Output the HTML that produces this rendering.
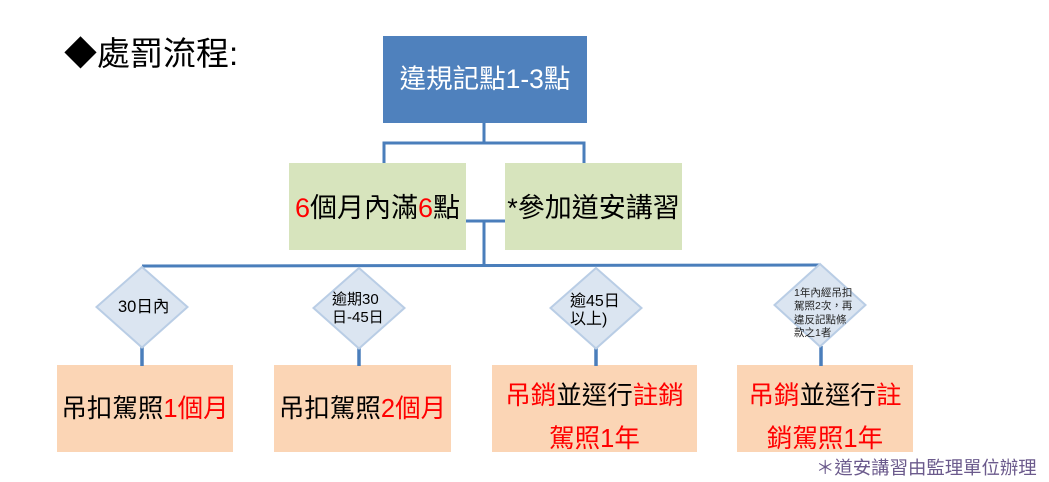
<!DOCTYPE html>
<html>
<head>
<meta charset="utf-8">
<style>
  html,body{margin:0;padding:0;background:#fff;}
  body{width:1049px;height:482px;position:relative;overflow:hidden;
       font-family:"Liberation Sans","Noto Sans CJK TC","Noto Sans CJK SC",sans-serif;}
  .abs{position:absolute;}
  .box{position:absolute;display:flex;align-items:center;justify-content:center;text-align:center;white-space:nowrap;}
  .r{color:#ff0000;}
  .t{position:absolute;white-space:nowrap;line-height:1;}
</style>
</head>
<body>
<svg class="abs" style="left:0;top:0" width="1049" height="482" viewBox="0 0 1049 482">
  <!-- boxes -->
  <rect x="383" y="36" width="204" height="87" fill="#4f81bd"/>
  <rect x="289" y="163" width="177" height="87" fill="#d7e4bd"/>
  <rect x="505" y="163" width="177" height="87" fill="#d7e4bd"/>
  <rect x="57" y="365" width="176" height="87" fill="#fbd5b5"/>
  <rect x="274" y="365" width="177" height="87" fill="#fbd5b5"/>
  <rect x="492" y="365" width="205" height="87" fill="#fbd5b5"/>
  <rect x="737" y="365" width="176" height="87" fill="#fbd5b5"/>
  <!-- connectors -->
  <g stroke="#4a7ebb" stroke-width="3" fill="none">
    <line x1="484" y1="123" x2="484" y2="143"/>
    <polyline points="384,163 384,143 584,143 584,163"/>
    <line x1="466" y1="221" x2="505" y2="221"/>
    <line x1="484" y1="221" x2="484" y2="266"/>
    <line x1="142" y1="266" x2="820" y2="265"/>
  </g>
  <g stroke="#4a7ebb" stroke-width="3.5" fill="none">
    <line x1="142" y1="347" x2="142" y2="366"/>
    <line x1="359" y1="348" x2="359" y2="366"/>
    <line x1="596" y1="348" x2="596" y2="366"/>
    <line x1="821" y1="346" x2="821" y2="366"/>
  </g>
  <!-- diamonds -->
  <g fill="#dbe5f1" stroke="#b9cde5" stroke-width="2">
    <polygon points="142,267 187.5,307 142,347.5 96.5,307"/>
    <polygon points="359,268 404.5,308 359,348.5 313.5,308"/>
    <polygon points="596,268 641.5,308 596,348.5 550.5,308"/>
    <polygon points="820,264 865.5,305 820,346.5 774.5,305"/>
  </g>
</svg>

<!-- title -->
<div class="t" style="left:64px;top:37px;font-size:33px;color:#000;">◆處罰流程:</div>

<!-- top box -->
<div class="box" style="left:383px;top:36px;width:204px;height:87px;font-size:26.5px;color:#fff;line-height:1;">違規記點1-3點</div>

<!-- green boxes -->
<div class="box" style="left:289px;top:165px;width:177px;height:87px;font-size:27px;color:#000;line-height:1;"><span><span class="r">6</span>個月內滿<span class="r">6</span>點</span></div>
<div class="box" style="left:505px;top:165px;width:177px;height:87px;font-size:27px;color:#000;line-height:1;">*參加道安講習</div>

<!-- diamond texts -->
<div class="t" style="left:118px;top:299px;font-size:16.5px;color:#000;">30日內</div>
<div class="t" style="left:332px;top:291px;font-size:15px;line-height:18px;color:#000;">逾期30<br>日-45日</div>
<div class="t" style="left:570px;top:293px;font-size:16px;line-height:18px;color:#000;">逾45日<br>以上)</div>
<div class="t" style="left:794px;top:287px;font-size:10.5px;line-height:13.3px;color:#222;">1年內經吊扣<br>駕照2次，再<br>違反記點條<br>款之1者</div>

<!-- orange boxes -->
<div class="box" style="left:57px;top:366px;width:176px;height:87px;font-size:25.5px;color:#000;line-height:1;"><span>吊扣駕照<span class="r">1個月</span></span></div>
<div class="box" style="left:274px;top:366px;width:177px;height:87px;font-size:25.5px;color:#000;line-height:1;"><span>吊扣駕照<span class="r">2個月</span></span></div>
<div class="t" style="left:492px;top:375px;width:205px;text-align:center;font-size:25.5px;line-height:43px;color:#000;"><span class="r">吊銷</span>並逕行<span class="r">註銷</span><br><span class="r">駕照1年</span></div>
<div class="t" style="left:737px;top:375px;width:176px;text-align:center;font-size:25.5px;line-height:43px;color:#000;"><span class="r">吊銷</span>並逕行<span class="r">註</span><br><span class="r">銷駕照1年</span></div>

<!-- footnote -->
<div class="t" style="left:816px;top:459px;font-size:18.4px;color:#6b5a8c;">＊道安講習由監理單位辦理</div>
</body>
</html>
